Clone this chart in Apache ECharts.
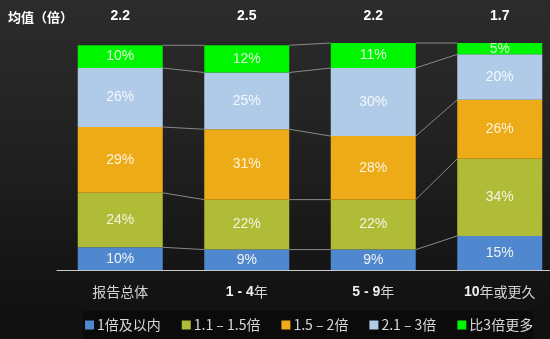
<!DOCTYPE html>
<html>
<head>
<meta charset="utf-8">
<script src="https://cdn.jsdelivr.net/npm/echarts@6/dist/echarts.min.js"></script>
<style>
  html, body { margin: 0; padding: 0; }
  body { width: 550px; height: 339px; background: linear-gradient(#2c2c2c 0%, #222 40%, #131313 85%, #111 100%); }
  #chart { width: 550px; height: 339px; }
</style>
</head>
<body>
<div id="chart"></div>
<script>
// Share of respondents by multiple, per tenure group (percent)
const categories = ['报告总体', '1 - 4年', '5 - 9年', '10年或更久'];
const means = ['2.2', '2.5', '2.2', '1.7'];
const seriesNames = ['1倍及以内', '1.1 – 1.5倍', '1.5 – 2倍', '2.1 – 3倍', '比3倍更多'];
const upTo1x   = [10, 9, 9, 15];
const x11to15  = [24, 22, 22, 34];
const x15to2   = [29, 31, 28, 26];
const x21to3   = [26, 25, 30, 20];
const over3x   = [10, 12, 11, 5];

const seriesData = [upTo1x, x11to15, x15to2, x21to3, over3x];
const colors = ['#4f88cf', '#b0bb38', '#eeab18', '#b0cbe8', '#00f500'];
const labelColors = ['#f2f2f2', '#f4f4e0', '#fdf3dc', '#f4f8fc', '#d8ffd8'];
const BAR_W = 85;
const LATIN = 'Helvetica, Arial, "Liberation Sans", sans-serif';
const CJK = '"Noto Sans CJK SC", sans-serif';

// cumulative boundaries for each category: [0, s1, s1+s2, ...]
const cumulative = categories.map((_, i) => {
  const out = [0];
  seriesData.forEach(arr => out.push(out[out.length - 1] + arr[i]));
  return out;
});

// digits in bold, CJK characters in regular weight
function mixedLabel(text) {
  return text.replace(/([^\u4e00-\u9fff]+)|([\u4e00-\u9fff]+)/g, (m, latin, han) =>
    latin ? '{n|' + latin + '}' : '{h|' + han + '}');
}

const chart = echarts.init(document.getElementById('chart'));

const barSeries = seriesData.map((arr, k) => ({
  name: seriesNames[k],
  type: 'bar',
  stack: 'total',
  barWidth: BAR_W,
  data: arr,
  itemStyle: { color: colors[k] },
  label: {
    show: true,
    position: 'inside',
    formatter: '{c}%',
    color: labelColors[k],
    fontSize: 14,
    fontFamily: LATIN
  },
  z: 3
}));

// thin connectors between segment boundaries of neighbouring bars
const connectors = {
  type: 'custom',
  name: 'connectors',
  xAxisIndex: 0,
  yAxisIndex: 0,
  silent: true,
  z: 2,
  data: categories.slice(0, -1).map((_, i) => [i]),
  encode: { x: 0 },
  renderItem: function (params, api) {
    const i = api.value(0);
    const a = cumulative[i], b = cumulative[i + 1];
    const half = BAR_W / 2;
    const children = [];
    for (let k = 1; k < a.length; k++) {
      const p1 = api.coord([i, a[k]]);
      const p2 = api.coord([i + 1, b[k]]);
      children.push({
        type: 'line',
        shape: { x1: p1[0] + half, y1: p1[1], x2: p2[0] - half, y2: p2[1] },
        style: { stroke: '#8a8a8a', lineWidth: 1 }
      });
    }
    return { type: 'group', children: children };
  }
};

chart.setOption({
  backgroundColor: 'transparent',
  animation: false,
  title: {
    text: '均值（倍）',
    left: 3,
    top: 6,
    textStyle: { color: '#ffffff', fontSize: 13, fontWeight: 'bold', fontFamily: CJK }
  },
  legend: {
    data: seriesNames,
    left: 83,
    right: 0,
    bottom: 0,
    itemWidth: 9,
    itemHeight: 9,
    itemGap: 21,
    icon: 'rect',
    backgroundColor: '#0b0b0b',
    padding: [7, 0, 7, 2],
    textStyle: { color: '#d8d8d8', fontSize: 14, fontFamily: CJK, padding: [0, 0, 0, -2] }
  },
  grid: { left: 57, right: -13, top: 43, bottom: 69, outerBoundsMode: 'none', containLabel: false },
  xAxis: [
    {
      type: 'category',
      data: categories,
      axisLine: { show: true, lineStyle: { color: '#c8c8c8', width: 1 } },
      axisTick: { show: false },
      axisLabel: {
        margin: 15,
        formatter: mixedLabel,
        rich: {
          n: { color: '#f0f0f0', fontSize: 14, fontWeight: 'bold', fontFamily: LATIN },
          h: { color: '#d4d4d4', fontSize: 14, fontFamily: CJK }
        }
      }
    },
    {
      type: 'category',
      position: 'top',
      data: means,
      axisLine: { show: false },
      axisTick: { show: false },
      axisLabel: { color: '#ffffff', fontSize: 14, fontWeight: 'bold', margin: 20, fontFamily: LATIN }
    }
  ],
  yAxis: { type: 'value', min: 0, max: 100, show: false, splitLine: { show: false } },
  series: barSeries.concat([connectors])
});
</script>
</body>
</html>
